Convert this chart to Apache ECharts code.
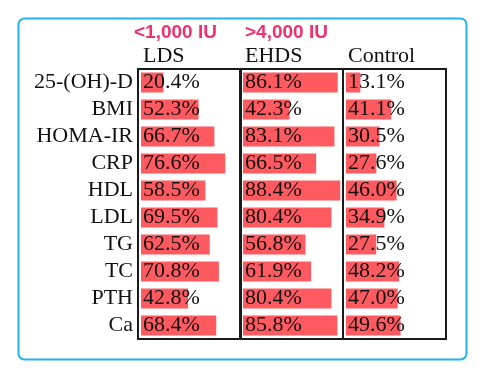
<!DOCTYPE html>
<html>
<head>
<meta charset="utf-8">
<script src="https://cdn.jsdelivr.net/npm/echarts@6/dist/echarts.min.js"></script>
<style>
html,body{margin:0;padding:0;background:#fff;}
#c{width:482px;height:374px;}
</style>
</head>
<body>
<div id="c"></div>
<script>
const categories = ['25-(OH)-D','BMI','HOMA-IR','CRP','HDL','LDL','TG','TC','PTH','Ca'];
const groups = ['LDS','EHDS','Control'];
const doseLabels = ['<1,000 IU','>4,000 IU'];
const lds = [20.4,52.3,66.7,76.6,58.5,69.5,62.5,70.8,42.8,68.4];
const ehds = [86.1,42.3,83.1,66.5,88.4,80.4,56.8,61.9,80.4,85.8];
const control = [13.1,41.1,30.5,27.6,46.0,34.9,27.5,48.2,47.0,49.6];
const seriesValues = [lds, ehds, control];

const colLeft = [138, 240, 343];
const colWidth = 103;
const gridTop = 69, gridHeight = 270;
const pxPerUnit = 1.1, barInset = 3;
const serif = "'Liberation Serif','Times New Roman',serif";

const chart = echarts.init(document.getElementById('c'), null, {renderer:'canvas'});

const grids = [], xAxes = [], yAxes = [], series = [], graphics = [];
groups.forEach((g, i) => {
  grids.push({left: colLeft[i], top: gridTop, width: colWidth, height: gridHeight,
    show: true, borderColor: '#1a1a1a', borderWidth: 2, backgroundColor: 'transparent'});
  xAxes.push({gridIndex: i, type: 'value', min: -barInset / pxPerUnit,
    max: (colWidth - barInset) / pxPerUnit, show: false});
  yAxes.push({gridIndex: i, type: 'category', data: categories, inverse: true,
    axisLine: {show: false}, axisTick: {show: false}, splitLine: {show: false},
    axisLabel: {show: i === 0, interval: 0, margin: 5, fontFamily: serif, fontSize: 22, color: '#111'}});
  series.push({type: 'bar', xAxisIndex: i, yAxisIndex: i, data: seriesValues[i],
    barWidth: 20, itemStyle: {color: '#ff5a60'}, silent: true,
    label: {show: true, position: 'insideLeft', distance: 2, fontFamily: serif,
      fontSize: 22, color: '#111', formatter: p => p.value.toFixed(1) + '%'}});
  graphics.push({type: 'text', left: colLeft[i] + 5, top: 45,
    style: {text: g, font: "22px " + serif, fill: '#111'}});
});
doseLabels.forEach((t, i) => {
  graphics.push({type: 'text', left: [134, 245][i], top: 23,
    style: {text: t, font: "bold 19px 'Liberation Sans', Arial, sans-serif", fill: '#f0306a'}});
});
graphics.push({type: 'rect', left: 16, top: 16, z: -1,
  shape: {width: 448, height: 341, r: 6},
  style: {fill: 'none', stroke: '#22b2ee', lineWidth: 2}});

chart.setOption({
  backgroundColor: '#fff',
  animation: false,
  grid: grids,
  xAxis: xAxes,
  yAxis: yAxes,
  series: series,
  graphic: graphics
});
</script>
</body>
</html>
